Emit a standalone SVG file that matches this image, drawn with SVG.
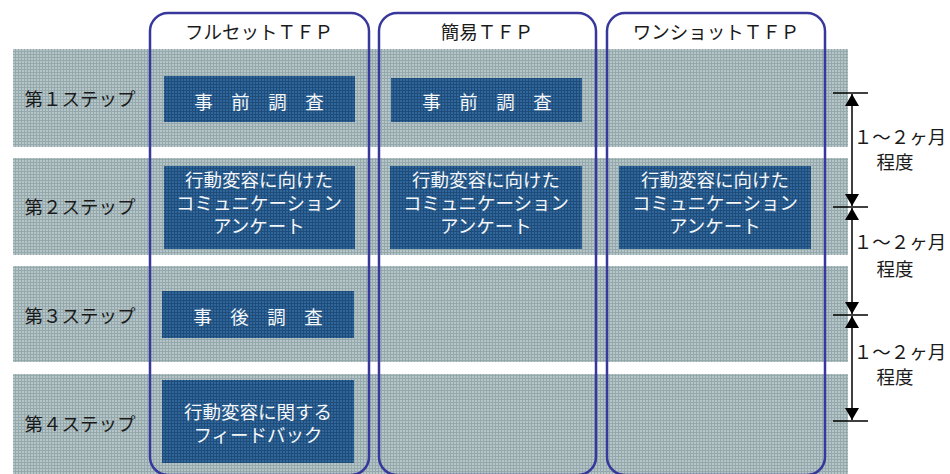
<svg xmlns="http://www.w3.org/2000/svg" width="950" height="474" viewBox="0 0 950 474">
<defs>
<pattern id="lightGrid" width="3" height="3" patternUnits="userSpaceOnUse">
<rect width="3" height="3" fill="#b6c5c7"/>
<path d="M0 0.5H3M0.5 0V3" stroke="#95a9ad" stroke-width="1"/>
</pattern>
<pattern id="darkGrid" width="3" height="3" patternUnits="userSpaceOnUse">
<rect width="3" height="3" fill="#30669a"/>
<path d="M0 0.5H3M0.5 0V3" stroke="#1e4c7b" stroke-width="1"/>
</pattern>
<marker id="ah" viewBox="0 0 12 14" refX="12" refY="7" markerWidth="12" markerHeight="14" markerUnits="userSpaceOnUse" orient="auto-start-reverse">
<path d="M0 0L12 7L0 14Z" fill="#000"/>
</marker>
</defs>
<style>
.row{fill:url(#lightGrid);}
.box{fill:url(#darkGrid);}
.col{fill:none;stroke:#38389c;stroke-width:2.5;}
text{font-family:"Noto Sans CJK JP","Noto Sans",sans-serif;font-size:18.5px;text-anchor:middle;}
.lbl{fill:#1a1a1a;}
.btx{fill:#f4f6f8;}
.hdr{fill:#1a1a1a;}
.tick{stroke:#000;stroke-width:1.3;}
.arr{stroke:#000;stroke-width:1.5;marker-start:url(#ah);marker-end:url(#ah);}
</style>
<g id="rows">
<rect class="row" x="13" y="49" width="835" height="98"/>
<rect class="row" x="13" y="158" width="835" height="97"/>
<rect class="row" x="13" y="266" width="835" height="96"/>
<rect class="row" x="13" y="374" width="835" height="100"/>
</g>
<g id="row-labels">
<text class="lbl" x="80" y="106">第１ステップ</text>
<text class="lbl" x="80" y="214">第２ステップ</text>
<text class="lbl" x="80" y="323">第３ステップ</text>
<text class="lbl" x="80" y="431">第４ステップ</text>
</g>
<g id="col-fullset">
<rect class="col" x="150" y="13" width="219" height="462" rx="18"/>
<text class="hdr" x="259" y="39">フルセットＴＦＰ</text>
</g>
<g id="col-simple">
<rect class="col" x="379" y="13" width="217" height="462" rx="18"/>
<text class="hdr" x="487" y="39">簡易ＴＦＰ</text>
</g>
<g id="col-oneshot">
<rect class="col" x="607" y="13" width="218" height="462" rx="18"/>
<text class="hdr" x="716" y="39">ワンショットＴＦＰ</text>
</g>
<g id="box-f1">
<rect class="box" x="164" y="76" width="191" height="46"/>
<text class="btx" x="259" y="109">事　前　調　査</text>
</g>
<g id="box-s1">
<rect class="box" x="391" y="78" width="191" height="44"/>
<text class="btx" x="487" y="109">事　前　調　査</text>
</g>
<g id="box-f2">
<rect class="box" x="164" y="166" width="191" height="83"/>
<text class="btx" x="259" y="187">行動変容に向けた<tspan x="259" dy="23">コミュニケーション</tspan><tspan x="259" dy="23">アンケート</tspan></text>
</g>
<g id="box-s2">
<rect class="box" x="390" y="166" width="192" height="83"/>
<text class="btx" x="486" y="187">行動変容に向けた<tspan x="486" dy="23">コミュニケーション</tspan><tspan x="486" dy="23">アンケート</tspan></text>
</g>
<g id="box-o2">
<rect class="box" x="619" y="166" width="192" height="83"/>
<text class="btx" x="715" y="187">行動変容に向けた<tspan x="715" dy="23">コミュニケーション</tspan><tspan x="715" dy="23">アンケート</tspan></text>
</g>
<g id="box-f3">
<rect class="box" x="162" y="291" width="192" height="47"/>
<text class="btx" x="258" y="324">事　後　調　査</text>
</g>
<g id="box-f4">
<rect class="box" x="162" y="380" width="192" height="83"/>
<text class="btx" x="258" y="419">行動変容に関する<tspan x="258" dy="23">フィードバック</tspan></text>
</g>
<g id="connectors">
<line class="tick" x1="833" y1="93" x2="868" y2="93"/>
<line class="tick" x1="833" y1="207" x2="868" y2="207"/>
<line class="tick" x1="833" y1="315" x2="868" y2="315"/>
<line class="tick" x1="833" y1="421" x2="868" y2="421"/>
<line class="arr" x1="852" y1="94" x2="852" y2="206"/>
<line class="arr" x1="852" y1="208" x2="852" y2="314"/>
<line class="arr" x1="852" y1="316" x2="852" y2="420"/>
</g>
<g id="durations">
<text class="lbl" x="900" y="144">１～２ヶ月<tspan x="895" dy="25">程度</tspan></text>
<text class="lbl" x="900" y="249">１～２ヶ月<tspan x="895" dy="27">程度</tspan></text>
<text class="lbl" x="900" y="359">１～２ヶ月<tspan x="895" dy="25">程度</tspan></text>
</g>
</svg>
